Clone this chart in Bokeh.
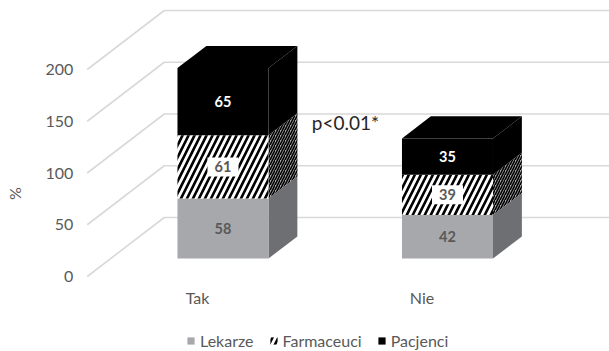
import math
from bokeh.plotting import figure
from bokeh.models import Range1d, Legend, LegendItem
from bokeh.core.properties import value
from bokeh.embed import file_html
from bokeh.resources import INLINE

# --- data -------------------------------------------------------------
categories = ["Tak", "Nie"]
series = ["Lekarze", "Farmaceuci", "Pacjenci"]
lekarze = [58, 42]
farmaceuci = [61, 39]
pacjenci = [65, 35]
y_ticks = [0, 50, 100, 150, 200]
note = "p<0.01*"

# --- 3D projection setup (x in category units, y in % units) -----------
DX = 0.343      # screen shift in x for full depth (category units)
DY = 57.0       # screen shift in y for full depth (% units)
Z0, Z1 = 0.305, 0.68   # depth slab occupied by the bars
HW = 0.2027            # half width of a bar
centers = [i + 0.5 for i in range(len(categories))]

FONT = value("Lato")
GREY_TXT = "#595959"

p = figure(width=609, height=351, output_backend="svg", toolbar_location=None,
           x_range=Range1d(-0.3864, 2.3263), y_range=Range1d(-72.46, 266.67),
           x_axis_type=None, y_axis_type=None, min_border=0)
p.grid.visible = False
p.outline_line_color = None
p.background_fill_color = "white"
p.border_fill_color = "white"

# wall gridlines: left wall diagonal + back wall horizontal
xs, ys = [], []
for v in y_ticks:
    xs.append([0, DX, len(categories) + DX])
    ys.append([v, v + DY, v + DY])
p.multi_line(xs, ys, line_color="#d9d9d9", line_width=1.6)

styles = {
    "Lekarze": dict(front=dict(fill_color="#a6a8ab"),
                    side=dict(fill_color="#6e6f72"),
                    label="#595959"),
    "Farmaceuci": dict(front=dict(fill_color="white", hatch_pattern="right_diagonal_line",
                                  hatch_color="black", hatch_scale=12, hatch_weight=2.6),
                       side=dict(fill_color="#a8a8a8", hatch_pattern="right_diagonal_line",
                                 hatch_color="black", hatch_scale=5, hatch_weight=1.6),
                       label="#595959"),
    "Pacjenci": dict(front=dict(fill_color="black"),
                     side=dict(fill_color="black"),
                     label="white"),
}
values = {"Lekarze": lekarze, "Farmaceuci": farmaceuci, "Pacjenci": pacjenci}

front_renderers = {}
base = [0.0] * len(categories)
label_x, label_y, label_txt, label_col, label_bg = [], [], [], [], []
for s in series:
    vals = values[s]
    st = styles[s]
    L0 = [c - HW + Z0 * DX for c in centers]
    R0 = [c + HW + Z0 * DX for c in centers]
    R1 = [c + HW + Z1 * DX for c in centers]
    b0 = [b + Z0 * DY for b in base]
    t0 = [b + v + Z0 * DY for b, v in zip(base, vals)]
    b1 = [b + Z1 * DY for b in base]
    t1 = [b + v + Z1 * DY for b, v in zip(base, vals)]
    # side faces
    p.patches([[r0, r1, r1, r0] for r0, r1 in zip(R0, R1)],
              [[a, b, c, d] for a, b, c, d in zip(b0, b1, t1, t0)],
              line_color=None, **st["side"])
    # front faces
    front_renderers[s] = p.quad(left=L0, right=R0, bottom=b0, top=t0,
                                line_color=None, **st["front"])
    for i, v in enumerate(vals):
        label_x.append(centers[i] + Z0 * DX)
        label_y.append((b0[i] + t0[i]) / 2)
        label_txt.append(str(v))
        label_col.append(st["label"])
        label_bg.append(s == "Farmaceuci")
    base = [b + v for b, v in zip(base, vals)]

# top faces of the stacks (last segment)
top_xs, top_ys = [], []
for c, b in zip(centers, base):
    top_xs.append([c - HW + Z0 * DX, c + HW + Z0 * DX, c + HW + Z1 * DX, c - HW + Z1 * DX])
    top_ys.append([b + Z0 * DY, b + Z0 * DY, b + Z1 * DY, b + Z1 * DY])
p.patches(top_xs, top_ys, fill_color="black", line_color=None)

# data labels
bx = [x for x, f in zip(label_x, label_bg) if f]
by = [y for y, f in zip(label_y, label_bg) if f]
p.rect(bx, by, width=31, height=19, width_units="screen", height_units="screen",
       fill_color="white", line_color=None)
p.text(label_x, label_y, text=label_txt, text_color=label_col, text_font=FONT,
       text_font_size="14.5px", text_font_style="bold", text_align="center",
       text_baseline="middle")

# value axis labels on the front edge of the left wall
p.text([0] * len(y_ticks), y_ticks, text=[str(t) for t in y_ticks], x_offset=-14,
       text_color=GREY_TXT, text_font=FONT, text_font_size="16px",
       text_align="right", text_baseline="middle")
p.text([0], [80], text=["%"], x_offset=-73, angle=math.pi / 2, text_color=GREY_TXT,
       text_font=FONT, text_font_size="16px", text_align="center", text_baseline="middle")

# category labels
p.text(centers, [-20] * len(centers), text=categories, x_offset=-2, text_color=GREY_TXT,
       text_font=FONT, text_font_size="16px", text_align="center", text_baseline="middle")

# significance note
p.text([1.0], [149], text=[note], text_color="#262626", text_font=FONT,
       text_font_size="19px", text_align="left", text_baseline="middle")

legend = Legend(items=[LegendItem(label=s, renderers=[front_renderers[s]]) for s in series],
                orientation="horizontal", location=(186, 1), padding=0, margin=0,
                spacing=15, glyph_width=9, glyph_height=9, label_standoff=5,
                label_height=16, label_text_font="Lato", label_text_font_size="16px",
                label_text_color=GREY_TXT, border_line_color=None,
                background_fill_alpha=0)
p.add_layout(legend)

open("out.html", "w").write(file_html(p, INLINE))
